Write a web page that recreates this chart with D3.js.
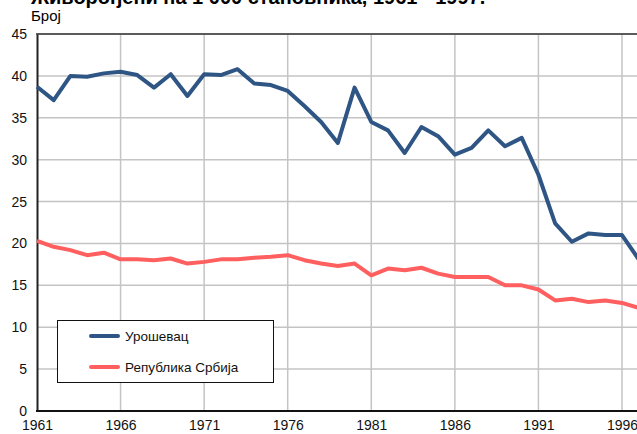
<html>
<head>
<meta charset="utf-8">
<script src="https://cdn.jsdelivr.net/npm/d3@7"></script>
<style>
  body { margin: 0; background: #fff; }
  text { font-family: "Liberation Sans", Arial, sans-serif; }
</style>
</head>
<body>
<script>
// godine i vrednosti
const years = d3.range(1961, 1998);
const urosevac = [38.7, 37.1, 40.0, 39.9, 40.3, 40.5, 40.1, 38.6, 40.2, 37.6,
                  40.2, 40.1, 40.8, 39.1, 38.9, 38.2, 36.4, 34.5, 32.0, 38.6,
                  34.5, 33.5, 30.8, 33.9, 32.8, 30.6, 31.4, 33.5, 31.6, 32.6,
                  28.2, 22.4, 20.2, 21.2, 21.0, 21.0, 18.1];
const srbija = [20.3, 19.6, 19.2, 18.6, 18.9, 18.1, 18.1, 18.0, 18.2, 17.6,
                17.8, 18.1, 18.1, 18.3, 18.4, 18.6, 18.0, 17.6, 17.3, 17.6,
                16.2, 17.0, 16.8, 17.1, 16.4, 16.0, 16.0, 16.0, 15.0, 15.0,
                14.5, 13.2, 13.4, 13.0, 13.2, 12.9, 12.3];
const seriesNames = ["Урошевац", "Република Србија"];
const colors = ["#2e5584", "#ff5f5f"];
const xTicks = [1961, 1966, 1971, 1976, 1981, 1986, 1991, 1996];
const yTicks = [0, 5, 10, 15, 20, 25, 30, 35, 40, 45];

const w = 637, h = 434;
const svg = d3.select("body").append("svg")
  .attr("width", w).attr("height", h);

const x = d3.scaleLinear().domain([1961, 1996]).range([37, 622]);
const y = d3.scaleLinear().domain([0, 45]).range([411, 34]);

// naslov (odsečen gore)
svg.append("text")
  .attr("x", 31).attr("y", 4)
  .attr("font-size", "20px").attr("font-weight", "bold")
  .text("Живорођени на 1 000 становника, 1961 - 1997.");
svg.append("text")
  .attr("x", 31).attr("y", 21)
  .attr("font-size", "15px")
  .text("Број");

// mreza
svg.append("g").selectAll("line").data(yTicks.slice(1)).enter().append("line")
  .attr("x1", 37).attr("x2", w)
  .attr("y1", d => y(d)).attr("y2", d => y(d))
  .attr("stroke", "#c4c4c4").attr("stroke-width", 1.5);
svg.append("g").selectAll("line").data(xTicks.slice(1)).enter().append("line")
  .attr("x1", d => x(d)).attr("x2", d => x(d))
  .attr("y1", 34).attr("y2", 411)
  .attr("stroke", "#c4c4c4").attr("stroke-width", 1.5);

// ose
const yAxis = d3.axisLeft(y).tickValues(yTicks).tickSize(0).tickPadding(10);
svg.append("g").attr("transform", "translate(37,0)").call(yAxis)
  .call(g => g.select(".domain").attr("stroke", "#222").attr("stroke-width", 2))
  .selectAll("text").attr("font-size", "14px").attr("fill", "#111")
  .attr("font-family", "Liberation Sans, Arial, sans-serif");

const xAxis = d3.axisBottom(x).tickValues(xTicks).tickFormat(d3.format("d")).tickSize(0).tickPadding(9);
svg.append("g").attr("transform", "translate(0,411)").call(xAxis)
  .call(g => g.select(".domain").remove())
  .selectAll("text").attr("font-size", "14px").attr("fill", "#111")
  .attr("font-family", "Liberation Sans, Arial, sans-serif");

svg.append("line").attr("x1", 36).attr("x2", w).attr("y1", 411).attr("y2", 411)
  .attr("stroke", "#111").attr("stroke-width", 2);
svg.append("line").attr("x1", 36).attr("x2", w).attr("y1", 34).attr("y2", 34)
  .attr("stroke", "#333").attr("stroke-width", 1.5);

// linije
const line = d3.line().x((d, i) => x(years[i])).y(d => y(d));
[urosevac, srbija].forEach(function(s, k) {
  svg.append("path").datum(s)
    .attr("d", line)
    .attr("fill", "none")
    .attr("stroke", colors[k])
    .attr("stroke-width", 4)
    .attr("stroke-linejoin", "round");
});

// legenda
const lg = svg.append("g");
lg.append("rect").attr("x", 57.5).attr("y", 320.5).attr("width", 216).attr("height", 62)
  .attr("fill", "#fff").attr("stroke", "#111").attr("stroke-width", 1);
seriesNames.forEach(function(n, k) {
  const ly = 336 + k * 31;
  lg.append("line").attr("x1", 91).attr("x2", 118).attr("y1", ly).attr("y2", ly)
    .attr("stroke", colors[k]).attr("stroke-width", 4).attr("stroke-linecap", "round");
  lg.append("text").attr("x", 125).attr("y", ly + 5)
    .attr("font-size", "13.5px").attr("fill", "#111").text(n);
});
</script>
</body>
</html>
